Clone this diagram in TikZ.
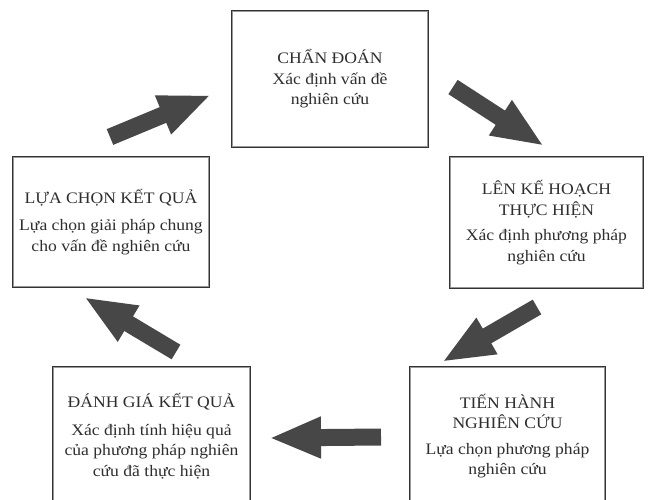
\documentclass[tikz,border=0pt]{standalone}
\usepackage{fontspec}
\setmainfont[FakeStretch=1.1]{Liberation Serif}
\usetikzlibrary{arrows.meta}
\begin{document}
\begin{tikzpicture}[x=1pt,y=-1pt,
  box/.style={draw=black!80, line width=1.7pt, fill=white, inner sep=0pt, align=center,
    font=\fontsize{16}{20.5}\selectfont, text=black!82},
  bigarrow/.style={line width=17pt, draw=black!72, -{Triangle[length=52pt,width=38pt]}, line cap=butt},
  innerline/.style={draw=black!40, line width=0.8pt}]
\useasboundingbox (0,0) rectangle (652,499);
\clip (0,0) rectangle (652,499);
\fill[white] (0,0) rectangle (652,499);
% boxes
\node[box, minimum width=196pt, minimum height=136pt] (diag) at (330,79)
  {CHẨN ĐOÁN\\Xác định vấn đề\\nghiên cứu};
\node[box, minimum width=193pt, minimum height=131pt] (plan) at (546.5,222.5)
  {LÊN KẾ HOẠCH\\THỰC HIỆN\\[5pt]Xác định phương pháp\\nghiên cứu};
\node[box, minimum width=196pt, minimum height=130pt] (choose) at (111,222)
  {LỰA CHỌN KẾT QUẢ\\[7pt]Lựa chọn giải pháp chung\\cho vấn đề nghiên cứu};
\node[box, minimum width=197pt, minimum height=138pt] (eval) at (151.5,436)
  {ĐÁNH GIÁ KẾT QUẢ\\[7pt]Xác định tính hiệu quả\\của phương pháp nghiên\\cứu đã thực hiện};
\node[box, minimum width=195pt, minimum height=138pt] (exec) at (507.5,436)
  {TIẾN HÀNH\\NGHIÊN CỨU\\[5pt]Lựa chọn phương pháp\\nghiên cứu};
% inner bevel lines
\foreach \b in {diag,plan,choose,eval,exec}{
  \draw[innerline] ([xshift=1.7pt,yshift=-1.7pt]\b.north west) rectangle ([xshift=-1.7pt,yshift=1.7pt]\b.south east);
}
% arrow end points
\coordinate (a1s) at (110,137); \coordinate (a1e) at (211,95);
\coordinate (a2s) at (453,87);  \coordinate (a2e) at (544,146);
\coordinate (a3s) at (537,307); \coordinate (a3e) at (442,362);
\coordinate (a4s) at (381,437); \coordinate (a4e) at (269,438);
\coordinate (a5s) at (176,352); \coordinate (a5e) at (84,297);
\draw[bigarrow] (a1s) -- (a1e);
\draw[bigarrow] (a2s) -- (a2e);
\draw[bigarrow] (a3s) -- (a3e);
\draw[bigarrow] (a4s) -- (a4e);
\draw[bigarrow] (a5s) -- (a5e);
\end{tikzpicture}
\end{document}
